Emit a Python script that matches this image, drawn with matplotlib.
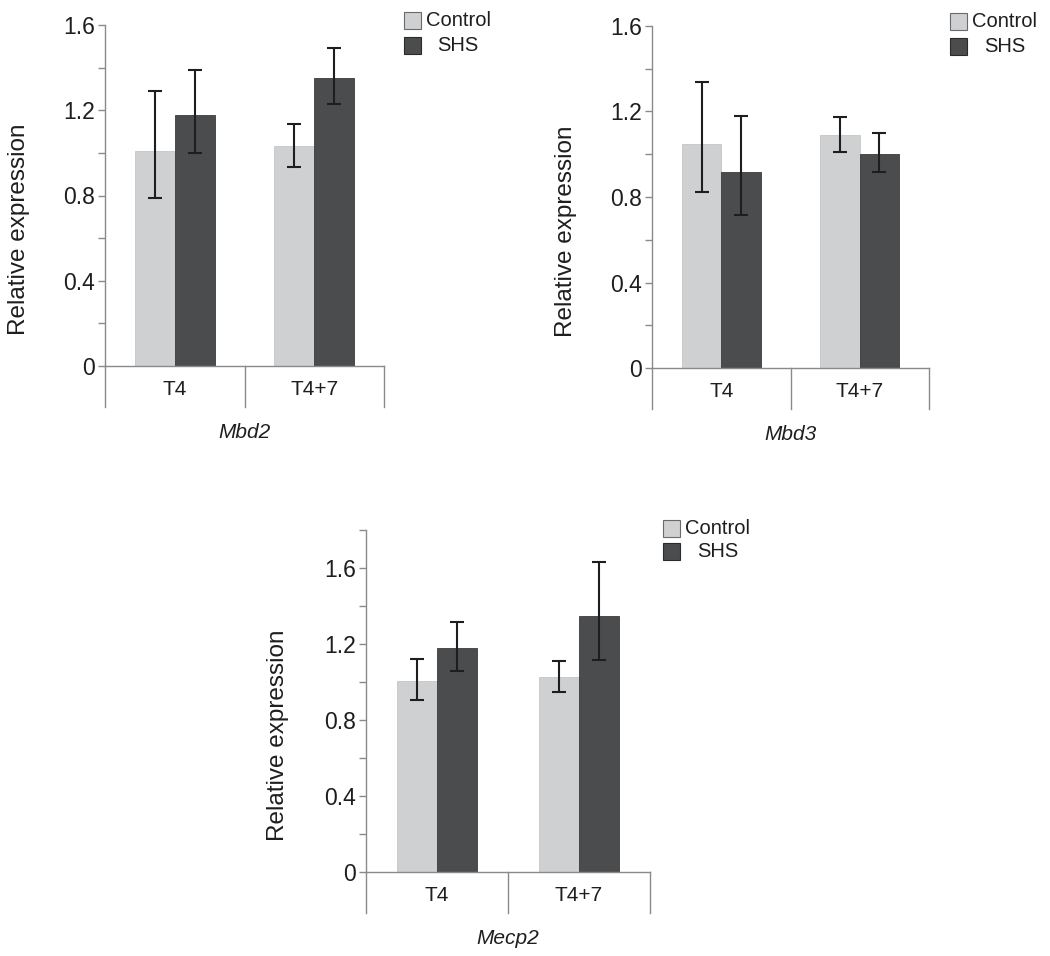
import matplotlib
matplotlib.use('Agg')
import matplotlib.pyplot as plt
from matplotlib.patches import Rectangle
import numpy as np

plt.rcParams['font.family'] = ['Liberation Sans', 'DejaVu Sans']

W, H = 1050, 956

categories = ['T4', 'T4+7']

# values: bar height, lower and upper end of error bar
mbd2_ctrl = [1.01, 1.03]
mbd2_ctrl_lo = [0.79, 0.935]
mbd2_ctrl_hi = [1.29, 1.135]
mbd2_shs = [1.18, 1.35]
mbd2_shs_lo = [1.00, 1.23]
mbd2_shs_hi = [1.39, 1.49]

mbd3_ctrl = [1.05, 1.09]
mbd3_ctrl_lo = [0.825, 1.01]
mbd3_ctrl_hi = [1.34, 1.175]
mbd3_shs = [0.917, 1.00]
mbd3_shs_lo = [0.715, 0.915]
mbd3_shs_hi = [1.18, 1.10]

mecp2_ctrl = [1.005, 1.025]
mecp2_ctrl_lo = [0.905, 0.947]
mecp2_ctrl_hi = [1.12, 1.11]
mecp2_shs = [1.18, 1.347]
mecp2_shs_lo = [1.06, 1.118]
mecp2_shs_hi = [1.316, 1.632]

CTRL_COLOR = '#cfd0d2'
SHS_COLOR = '#4b4c4e'
AXIS_COLOR = '#8a8a8a'
TEXT_COLOR = '#1e1e1e'

fig = plt.figure(figsize=(W / 100, H / 100), dpi=100)


def px_rect(x0, y_top, x1, y_bot):
    return [x0 / W, 1 - y_bot / H, (x1 - x0) / W, (y_bot - y_top) / H]


def draw_panel(rect, ymax, ctrl, ctrl_lo, ctrl_hi, shs, shs_lo, shs_hi, gene):
    ax = fig.add_axes(rect)
    x = np.arange(len(categories))
    w = 0.285
    ctrl = np.array(ctrl)
    shs = np.array(shs)
    ax.bar(x - w / 2, ctrl, w, color=CTRL_COLOR, edgecolor='#c4c5c7', linewidth=0.6, zorder=2)
    ax.bar(x + w / 2, shs, w, color=SHS_COLOR, edgecolor='#3a3b3d', linewidth=0.6, zorder=2)
    ax.errorbar(x - w / 2, ctrl, yerr=[ctrl - np.array(ctrl_lo), np.array(ctrl_hi) - ctrl],
                fmt='none', ecolor=TEXT_COLOR, elinewidth=1.5, capsize=5, capthick=1.5, zorder=3)
    ax.errorbar(x + w / 2, shs, yerr=[shs - np.array(shs_lo), np.array(shs_hi) - shs],
                fmt='none', ecolor=TEXT_COLOR, elinewidth=1.5, capsize=5, capthick=1.5, zorder=3)

    ax.set_xlim(-0.5, len(categories) - 0.5)
    ax.set_ylim(0, ymax)
    for s in ['top', 'right']:
        ax.spines[s].set_visible(False)
    for s in ['left', 'bottom']:
        ax.spines[s].set_color(AXIS_COLOR)
        ax.spines[s].set_linewidth(1.0)

    # ticks every 0.2, labels every 0.4
    ticks = np.round(np.arange(0, ymax + 0.01, 0.2), 1)
    ax.set_yticks(ticks)
    ax.set_yticklabels(['0' if t == 0 else (f'{t:.1f}' if round(t / 0.4, 3) % 1 == 0 else '') for t in ticks])
    ax.tick_params(axis='y', length=5, width=1.0, color=AXIS_COLOR, pad=2, labelsize=16.5, labelcolor=TEXT_COLOR)
    ax.set_xticks(x)
    ax.set_xticklabels(categories)
    ax.tick_params(axis='x', length=0, pad=10, labelsize=15, labelcolor=TEXT_COLOR)

    # category separators below the axis
    trans = ax.get_xaxis_transform()
    axh = rect[3] * H
    for sx in np.arange(-0.5, len(categories), 1.0):
        ax.plot([sx, sx], [0, -41 / axh], transform=trans, color=AXIS_COLOR, lw=1.0, clip_on=False)

    ax.text(-0.31, 0.40, 'Relative expression', transform=ax.transAxes, rotation=90,
            ha='center', va='center', fontsize=17.5, color=TEXT_COLOR)
    ax.text(0.5, -66 / axh, gene, transform=ax.transAxes, ha='center', va='center',
            fontsize=15, style='italic', color=TEXT_COLOR)
    return ax


def draw_legend(bx, ctrl_y, shs_y, ctrl_tx, shs_tx):
    for (y0, col, ec, label, tx) in [(ctrl_y, CTRL_COLOR, '#6a6a6a', 'Control', ctrl_tx),
                                     (shs_y, SHS_COLOR, '#2a2a2a', 'SHS', shs_tx)]:
        fig.add_artist(Rectangle((bx / W, 1 - (y0 + 17) / H), 17 / W, 17 / H,
                                 transform=fig.transFigure, facecolor=col, edgecolor=ec, lw=0.8))
        fig.text(tx / W, 1 - (y0 + 8.5) / H, label, ha='left', va='center',
                 fontsize=14.5, color=TEXT_COLOR)


draw_panel(px_rect(105, 25, 384, 366), 1.6, mbd2_ctrl, mbd2_ctrl_lo, mbd2_ctrl_hi,
           mbd2_shs, mbd2_shs_lo, mbd2_shs_hi, 'Mbd2')
draw_panel(px_rect(652, 26, 929, 368), 1.6, mbd3_ctrl, mbd3_ctrl_lo, mbd3_ctrl_hi,
           mbd3_shs, mbd3_shs_lo, mbd3_shs_hi, 'Mbd3')
draw_panel(px_rect(366, 530, 650, 872), 1.8, mecp2_ctrl, mecp2_ctrl_lo, mecp2_ctrl_hi,
           mecp2_shs, mecp2_shs_lo, mecp2_shs_hi, 'Mecp2')

draw_legend(404, 12, 37, 426, 437)
draw_legend(950, 13, 38, 972, 984)
draw_legend(663, 520, 543, 685, 697)

fig.savefig('out.png', dpi=100)
